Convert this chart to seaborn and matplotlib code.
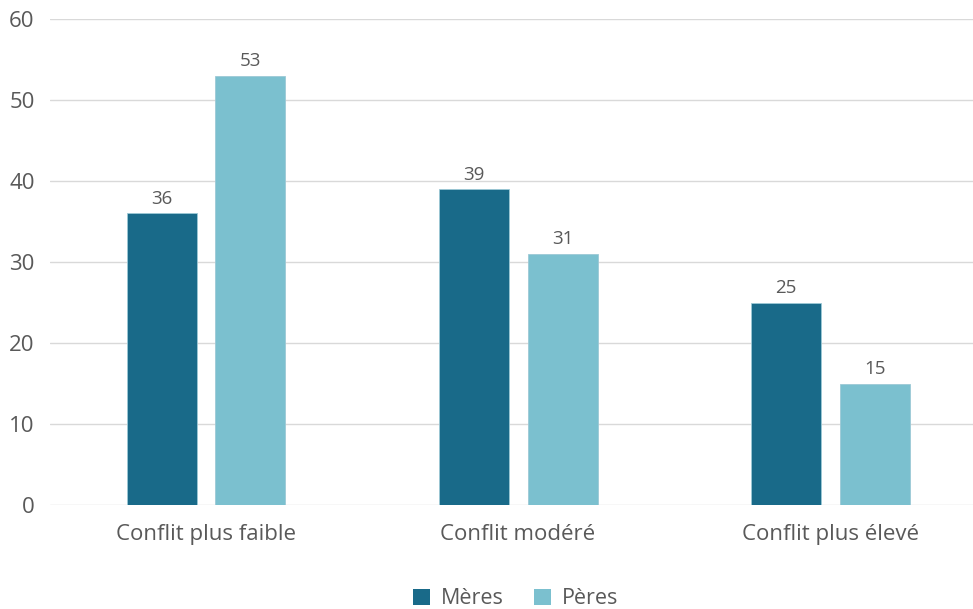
import matplotlib
matplotlib.use("Agg")
import matplotlib.pyplot as plt
import seaborn as sns
import pandas as pd
from matplotlib.patches import Patch

categories = ["Conflit plus faible", "Conflit modéré", "Conflit plus élevé"]
series = ["Mères", "Pères"]
meres = [36, 39, 25]
peres = [53, 31, 15]
yticks = [0, 10, 20, 30, 40, 50, 60]
colors = ["#196a89", "#7bc0cf"]

df = pd.DataFrame({
    "cat": categories * 2,
    "serie": [series[0]] * 3 + [series[1]] * 3,
    "val": meres + peres,
})

sns.set_theme(style="white")
plt.rcParams["font.family"] = ["Open Sans", "DejaVu Sans"]
txt = "#595959"

fig = plt.figure(figsize=(9.73, 6.09), dpi=100)
ax = fig.add_axes([50 / 973, 104 / 609, 923 / 973, (505 - 19) / 609])

sns.barplot(data=df, x="cat", y="val", hue="serie", hue_order=series,
            palette=colors, width=0.57, gap=0.213, ax=ax, legend=False,
            edgecolor="#9cc9d6", linewidth=0.6, saturation=1, zorder=3)

for cont in ax.containers:
    ax.bar_label(cont, labels=[f"{v:.0f}" for v in cont.datavalues],
                 padding=4, fontsize=13.5, color=txt)

ax.set_ylim(0, 60)
ax.set_xlim(-0.5, 2.458)
ax.set_yticks(yticks)
ax.grid(axis="y", color="#d9d9d9", linewidth=1, zorder=0)
ax.set_axisbelow(True)
for s in ax.spines.values():
    s.set_visible(False)
ax.set_xlabel("")
ax.set_ylabel("")
ax.tick_params(axis="y", length=0, pad=11, labelsize=16, labelcolor=txt)
ax.tick_params(axis="x", length=0, pad=14, labelsize=16, labelcolor=txt)

handles = [Patch(facecolor=c, edgecolor="none") for c in colors]
leg = fig.legend(handles, series, loc="center", ncol=2, frameon=False,
                 fontsize=15.5, labelcolor=txt,
                 handlelength=0.8, handleheight=0.8, handletextpad=0.5,
                 columnspacing=1.4)
leg.set_bbox_to_anchor((0.530, 1 - 599 / 609), transform=fig.transFigure)

fig.savefig("out.png", dpi=100)
